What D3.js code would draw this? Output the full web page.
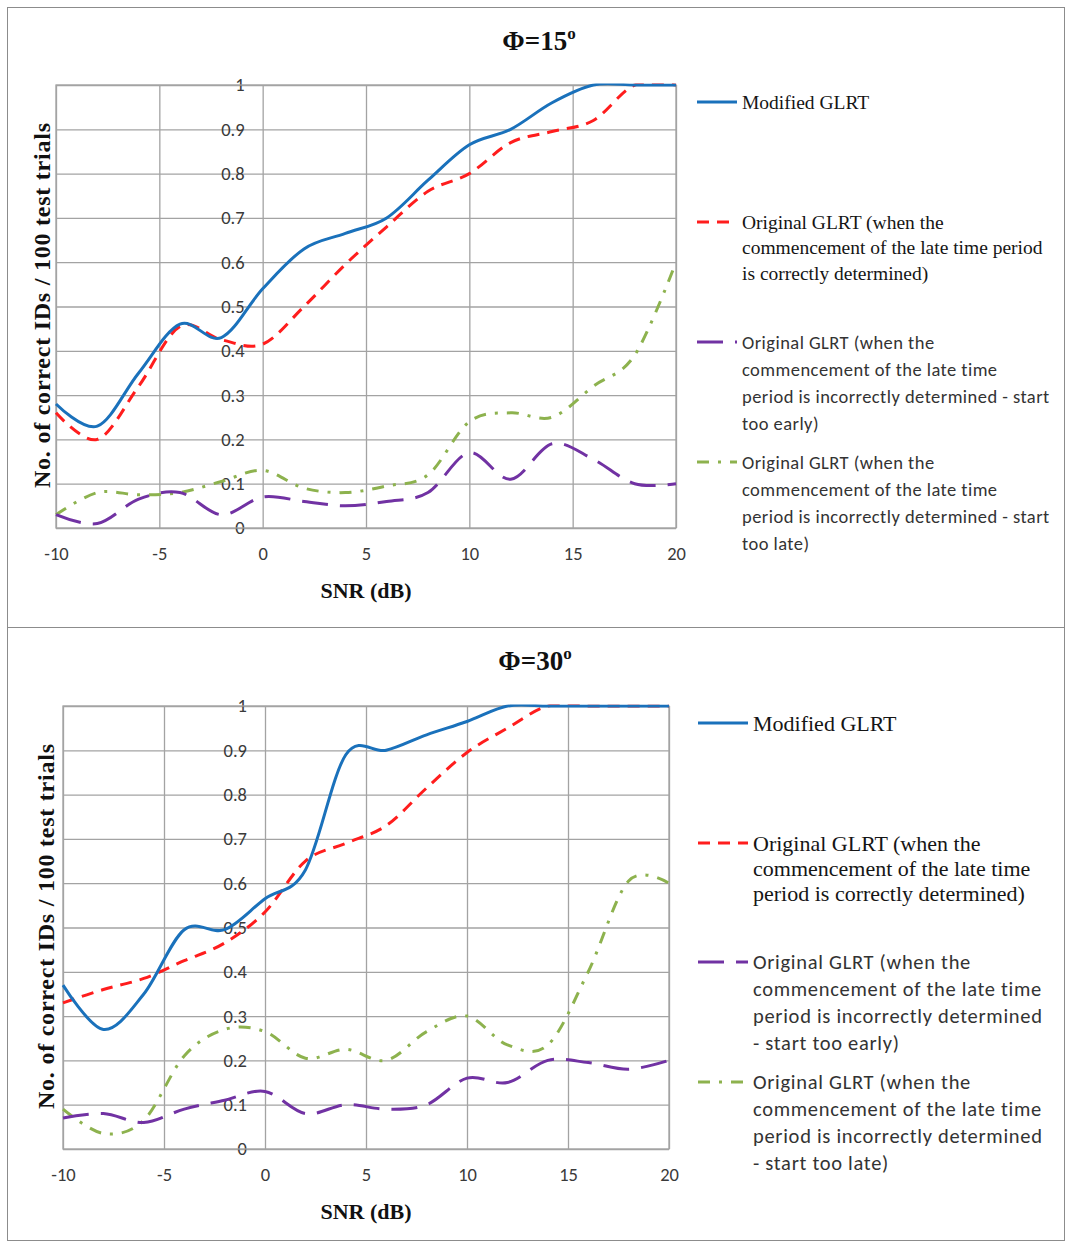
<!DOCTYPE html>
<html>
<head>
<meta charset="utf-8">
<script src="https://cdn.jsdelivr.net/npm/d3@7"></script>
<style>
  html, body { margin: 0; padding: 0; background: #fff; }
  svg { display: block; }
</style>
</head>
<body>
<svg id="chart" width="1066" height="1243"></svg>
<script>
// ---- data -----------------------------------------------------------------
const snrDb = [-10, -8, -6, -4, -2, 0, 2, 4, 6, 8, 10, 12, 14, 16, 18, 20];

// Φ = 15°
const modified15 = [0.28, 0.23, 0.35, 0.46, 0.43, 0.54, 0.63, 0.665, 0.70, 0.785, 0.865, 0.90, 0.96, 1, 1, 1];
const correct15  = [0.26, 0.20, 0.32, 0.455, 0.425, 0.415, 0.50, 0.595, 0.68, 0.76, 0.80, 0.87, 0.895, 0.92, 1, 1];
const early15    = [0.03, 0.01, 0.065, 0.08, 0.03, 0.07, 0.06, 0.05, 0.06, 0.08, 0.17, 0.11, 0.19, 0.155, 0.10, 0.10];
const late15     = [0.03, 0.08, 0.075, 0.08, 0.105, 0.13, 0.09, 0.08, 0.095, 0.12, 0.24, 0.26, 0.25, 0.32, 0.39, 0.60];

// Φ = 30°
const modified30 = [0.37, 0.27, 0.35, 0.495, 0.495, 0.565, 0.63, 0.89, 0.90, 0.935, 0.965, 1, 1, 1, 1, 1];
const correct30  = [0.33, 0.36, 0.385, 0.425, 0.465, 0.535, 0.65, 0.69, 0.73, 0.815, 0.895, 0.95, 1, 1, 1, 1];
const early30    = [0.07, 0.08, 0.06, 0.09, 0.11, 0.13, 0.08, 0.10, 0.09, 0.10, 0.16, 0.15, 0.20, 0.195, 0.18, 0.20];
const late30     = [0.09, 0.035, 0.065, 0.21, 0.27, 0.265, 0.205, 0.225, 0.20, 0.265, 0.30, 0.235, 0.235, 0.40, 0.605, 0.60];

const xTickValues = [-10, -5, 0, 5, 10, 15, 20];
const yTickValues = [0, 0.1, 0.2, 0.3, 0.4, 0.5, 0.6, 0.7, 0.8, 0.9, 1];

const panelTitles = ["Φ=15", "Φ=30"];
const xAxisTitle = "SNR (dB)";
const yAxisTitle = "No. of correct IDs / 100 test trials";

const legendModified = ["Modified GLRT"];
const legendCorrect15 = ["Original GLRT (when the", "commencement of the late time period", "is correctly determined)"];
const legendEarly15 = ["Original GLRT (when the", "commencement of the late time", "period is incorrectly determined - start", "too early)"];
const legendLate15 = ["Original GLRT (when the", "commencement of the late time", "period is incorrectly determined - start", "too late)"];
const legendCorrect30 = ["Original GLRT (when the", "commencement of the late time", "period is correctly determined)"];
const legendEarly30 = ["Original GLRT (when the", "commencement of the late time", "period is incorrectly determined", "- start too early)"];
const legendLate30 = ["Original GLRT (when the", "commencement of the late time", "period is incorrectly determined", "- start too late)"];

// ---- styling --------------------------------------------------------------
const SERIF = "'Liberation Serif', 'Times New Roman', serif";
const SANS = "Carlito, Lato, 'Open Sans', sans-serif";
const GRID = "#a3a3a3";

const seriesStyles = [
  { color: "#1a71bb", dash: null,        font: SERIF },
  { color: "#ff1d1d", dash: "12 8",      font: SERIF },
  { color: "#7132a3", dash: "26 12",     font: SANS },
  { color: "#8db24e", dash: "12 9 3 9",  font: SANS }
];

const panels = [
  {
    title: panelTitles[0],
    series: [modified15, correct15, early15, late15],
    legend: [legendModified, legendCorrect15, legendEarly15, legendLate15],
    frame: { x: 7.5, y: 7.5, w: 1057, h: 620 },
    plot: { left: 56, top: 85, right: 676, bottom: 528 },
    titlePos: { x: 539, y: 50 },
    xTitleY: 598, yTitleX: 42, yTitleLen: 365,
    legendLayout: { x0: 697, len: 40, textX: 742, rows: [102, 222, 342, 462],
                    serifSize: 19.5, sansSize: 18.5, sansSpacing: 0.45,
                    serifLead: 25.5, sansLead: 27 }
  },
  {
    title: panelTitles[1],
    series: [modified30, correct30, early30, late30],
    legend: [legendModified, legendCorrect30, legendEarly30, legendLate30],
    frame: { x: 7.5, y: 627.5, w: 1057, h: 613 },
    plot: { left: 63, top: 706, right: 669, bottom: 1149 },
    titlePos: { x: 535, y: 670 },
    xTitleY: 1219, yTitleX: 46, yTitleLen: 365,
    legendLayout: { x0: 698, len: 50, textX: 753, rows: [723, 843, 962, 1082],
                    serifSize: 22, sansSize: 20.5, sansSpacing: 0.7,
                    serifLead: 25, sansLead: 27 }
  }
];

const svg = d3.select("#chart");
svg.append("rect").attr("width", 1066).attr("height", 1243).attr("fill", "#fff");

panels.forEach((p, pi) => {
  const g = svg.append("g");

  // outer frame
  g.append("rect")
    .attr("x", p.frame.x).attr("y", p.frame.y)
    .attr("width", p.frame.w).attr("height", p.frame.h)
    .attr("fill", "none").attr("stroke", "#8c8c8c").attr("stroke-width", 1);

  const x = d3.scaleLinear().domain([-10, 20]).range([p.plot.left, p.plot.right]);
  const y = d3.scaleLinear().domain([0, 1]).range([p.plot.bottom, p.plot.top]);
  const w = p.plot.right - p.plot.left;
  const h = p.plot.bottom - p.plot.top;

  // vertical gridlines + x tick labels
  const xAxis = g.append("g")
    .attr("transform", `translate(0,${p.plot.bottom})`)
    .call(d3.axisBottom(x).tickValues(xTickValues).tickSize(-h).tickPadding(19)
      .tickFormat(d3.format("d")));
  // horizontal gridlines
  const yGrid = g.append("g")
    .attr("transform", `translate(${p.plot.left},0)`)
    .call(d3.axisLeft(y).tickValues(yTickValues).tickSize(-w).tickFormat(""));
  [xAxis, yGrid].forEach(a => {
    a.select(".domain").remove();
    a.selectAll(".tick line").attr("stroke", GRID).attr("stroke-width", 1.3);
  });
  xAxis.selectAll(".tick text")
    .attr("font-family", SANS).attr("font-size", 18.5).attr("fill", "#3a3a3a")
    .text(d => d < 0 ? "-" + Math.abs(d) : d);

  // y tick labels sit beside the 0 dB gridline
  const yLabels = g.append("g")
    .attr("transform", `translate(${x(0)},0)`)
    .call(d3.axisLeft(y).tickValues(yTickValues).tickSize(0).tickPadding(18)
      .tickFormat(d => d === 0 ? "0" : d === 1 ? "1" : d3.format(".1f")(d)));
  yLabels.select(".domain").remove();
  yLabels.selectAll(".tick text")
    .attr("font-family", SANS).attr("font-size", 18.5).attr("fill", "#3a3a3a");

  // plot border
  g.append("rect")
    .attr("x", p.plot.left).attr("y", p.plot.top).attr("width", w).attr("height", h)
    .attr("fill", "none").attr("stroke", GRID).attr("stroke-width", 1.3);

  // series
  const clipId = "clip" + pi;
  svg.append("clipPath").attr("id", clipId).append("rect")
    .attr("x", p.plot.left - 2).attr("y", p.plot.top - 1.6)
    .attr("width", w + 4).attr("height", h + 3.2);

  const line = d3.line()
    .x((d, i) => x(snrDb[i]))
    .y(d => y(d))
    .curve(d3.curveCardinal.tension(0));

  const lines = g.append("g").attr("clip-path", `url(#${clipId})`);
  [3, 2, 1, 0].forEach(si => {
    const st = seriesStyles[si];
    lines.append("path")
      .attr("d", line(p.series[si]))
      .attr("fill", "none")
      .attr("stroke", st.color)
      .attr("stroke-width", 3)
      .attr("stroke-dasharray", st.dash)
      .attr("stroke-linejoin", "round");
  });

  // panel title with superscript degree mark
  const t = g.append("text")
    .attr("x", p.titlePos.x).attr("y", p.titlePos.y)
    .attr("text-anchor", "middle")
    .attr("font-family", SERIF).attr("font-weight", "bold").attr("font-size", 27)
    .attr("fill", "#111");
  t.append("tspan").text(p.title);
  t.append("tspan").attr("dy", -11).attr("font-size", 17).text("o");

  // axis titles
  g.append("text")
    .attr("x", (p.plot.left + p.plot.right) / 2).attr("y", p.xTitleY)
    .attr("text-anchor", "middle")
    .attr("font-family", SERIF).attr("font-weight", "bold").attr("font-size", 22)
    .attr("fill", "#111").text(xAxisTitle);
  g.append("text")
    .attr("transform", `translate(${p.yTitleX},${(p.plot.top + p.plot.bottom) / 2 - 1}) rotate(-90)`)
    .attr("text-anchor", "middle").attr("dominant-baseline", "central")
    .attr("font-family", SERIF).attr("font-weight", "bold").attr("font-size", 24)
    .attr("textLength", p.yTitleLen).attr("lengthAdjust", "spacing")
    .attr("fill", "#111").text(yAxisTitle);

  // legend
  const L = p.legendLayout;
  p.legend.forEach((rows, si) => {
    const st = seriesStyles[si];
    const cy = L.rows[si];
    g.append("line")
      .attr("x1", L.x0).attr("x2", L.x0 + L.len)
      .attr("y1", cy).attr("y2", cy)
      .attr("stroke", st.color).attr("stroke-width", 3)
      .attr("stroke-dasharray", st.dash);
    const isSerif = st.font === SERIF;
    const size = isSerif ? L.serifSize : L.sansSize;
    const lead = isSerif ? L.serifLead : L.sansLead;
    rows.forEach((txt, ri) => {
      g.append("text")
        .attr("x", L.textX).attr("y", cy + ri * lead)
        .attr("dominant-baseline", "central")
        .attr("font-family", st.font).attr("font-size", size)
        .attr("letter-spacing", isSerif ? 0 : L.sansSpacing)
        .attr("fill", isSerif ? "#151515" : "#333")
        .text(txt);
    });
  });
});
</script>
</body>
</html>
